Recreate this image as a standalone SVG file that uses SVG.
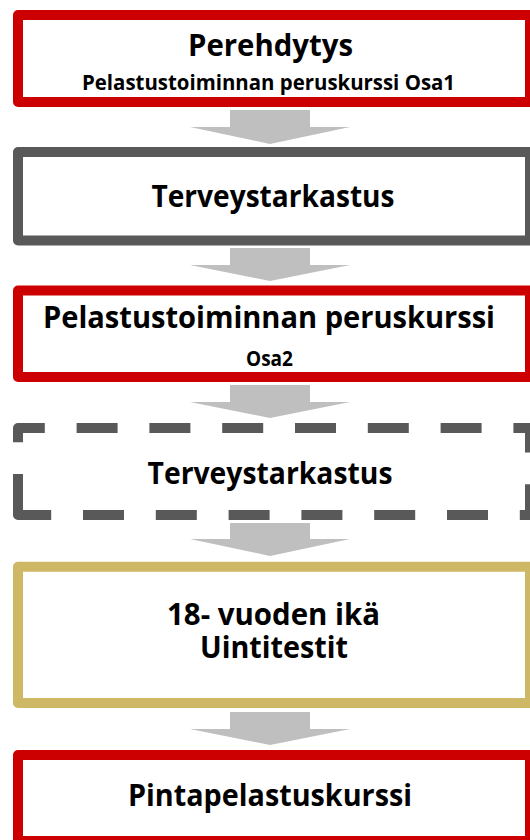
<svg xmlns="http://www.w3.org/2000/svg" width="530" height="840" viewBox="0 0 530 840">
<style>
.box{fill:#FFFFFF;stroke-width:10;stroke-linejoin:round}
.red{stroke:#CC0000}
.gray{stroke:#595959}
.gold{stroke:#CEB866}
.dash{fill:none;stroke:#595959;stroke-width:10;stroke-dasharray:41 31.8;stroke-linejoin:round}
.arrow{fill:#BFBFBF}
text{font-family:"Open Sans","Noto Sans","Liberation Sans",sans-serif;font-weight:700;fill:#000000;text-anchor:middle}
.big{font-size:31px}
.small{font-size:21px}
</style>
<rect width="530" height="840" fill="#FFFFFF"/>
<g id="connectors">
<polygon class="arrow" points="230,110 310,110 310,127 350,127 270,144 190,127 230,127"/>
<polygon class="arrow" points="230,248 310,248 310,265 350,265 270,281 190,265 230,265"/>
<polygon class="arrow" points="230,385 310,385 310,402 350,402 270,418 190,402 230,402"/>
<polygon class="arrow" points="230,523 310,523 310,539 350,539 270,556 190,539 230,539"/>
<polygon class="arrow" points="230,712 310,712 310,729 350,729 270,745 190,729 230,729"/>
</g>
<g id="node-perehdytys">
<rect class="box red" x="18" y="15" width="512" height="87"/>
<text class="big" x="270.5" y="56" textLength="165" lengthAdjust="spacingAndGlyphs">Perehdytys</text>
<text class="small" x="268.5" y="90" textLength="373" lengthAdjust="spacingAndGlyphs">Pelastustoiminnan peruskurssi Osa1</text>
</g>
<g id="node-terveystarkastus-1">
<rect class="box gray" x="18" y="152" width="512" height="88.5"/>
<text class="big" x="273" y="207" textLength="243" lengthAdjust="spacingAndGlyphs">Terveystarkastus</text>
</g>
<g id="node-peruskurssi-osa2">
<rect class="box red" x="18" y="290.5" width="512" height="86.5"/>
<text class="big" x="269" y="328" textLength="452" lengthAdjust="spacingAndGlyphs">Pelastustoiminnan peruskurssi</text>
<text class="small" x="269.5" y="366" textLength="47" lengthAdjust="spacingAndGlyphs">Osa2</text>
</g>
<g id="node-terveystarkastus-2">
<path class="dash" d="M18,515 V428 H530 V515 Z"/>
<text class="big" x="270" y="484" textLength="245" lengthAdjust="spacingAndGlyphs">Terveystarkastus</text>
</g>
<g id="node-ika-uintitestit">
<rect class="box gold" x="18" y="566.7" width="512" height="136.3"/>
<text class="big" x="273.5" y="625" textLength="213" lengthAdjust="spacingAndGlyphs">18- vuoden ikä</text>
<text class="big" x="274" y="658" textLength="148" lengthAdjust="spacingAndGlyphs">Uintitestit</text>
</g>
<g id="node-pintapelastuskurssi">
<rect class="box red" x="18" y="755" width="512" height="86"/>
<text class="big" x="270" y="806" textLength="284" lengthAdjust="spacingAndGlyphs">Pintapelastuskurssi</text>
</g>
</svg>
